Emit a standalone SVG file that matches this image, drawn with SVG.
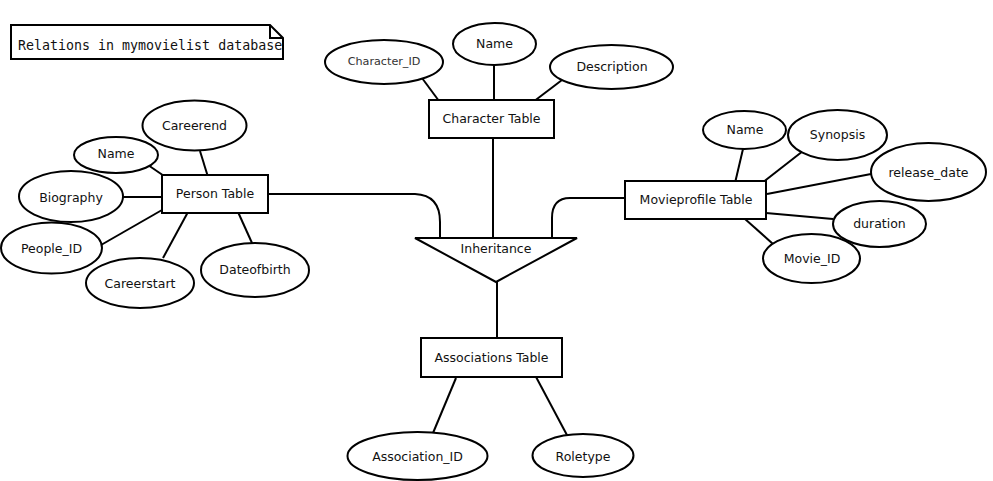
<svg xmlns="http://www.w3.org/2000/svg" width="993" height="481" viewBox="0 0 993 481">
<style>
  .sh{fill:#fff;stroke:#000;stroke-width:2}
  .ln{fill:none;stroke:#000;stroke-width:2}
  text{font-family:"DejaVu Sans",Verdana,sans-serif;font-size:12.5px;fill:#111;text-anchor:middle;dominant-baseline:central}
  .mono{font-family:"DejaVu Sans Mono","Liberation Mono",monospace;font-size:13.3px;text-anchor:start}
</style>
<rect width="993" height="481" fill="#fff"/>
<g id="note">
  <path class="sh" d="M11,25 H270 L283,38 V59 H11 Z"/>
  <path class="ln" d="M270,25 V38 H283" stroke-width="1"/>
  <text class="mono" x="18" y="45">Relations in mymovielist database</text>
</g>
<g id="connectors">
  <line class="ln" x1="148" y1="165" x2="167" y2="178"/>
  <line class="ln" x1="200" y1="151" x2="208" y2="177"/>
  <line class="ln" x1="123" y1="197" x2="166" y2="197"/>
  <line class="ln" x1="101" y1="245" x2="162" y2="210"/>
  <line class="ln" x1="163" y1="258" x2="188" y2="212"/>
  <line class="ln" x1="252" y1="243" x2="238" y2="212"/>
  <path class="ln" d="M268,194 H415 Q440,195 440,222 V238"/>
  <line class="ln" x1="422" y1="78" x2="439" y2="101"/>
  <line class="ln" x1="494" y1="65" x2="494" y2="100"/>
  <line class="ln" x1="562" y1="80" x2="533" y2="102"/>
  <line class="ln" x1="493" y1="138" x2="493" y2="238"/>
  <path class="ln" d="M625,198 H570 Q552,198 552,218 V238"/>
  <line class="ln" x1="743" y1="149" x2="735" y2="183"/>
  <line class="ln" x1="803" y1="151" x2="762" y2="183"/>
  <line class="ln" x1="871" y1="174" x2="767" y2="194"/>
  <line class="ln" x1="766" y1="213" x2="833" y2="219"/>
  <line class="ln" x1="745" y1="219" x2="773" y2="244"/>
  <line class="ln" x1="497" y1="282" x2="497" y2="339"/>
  <line class="ln" x1="456" y1="378" x2="433" y2="433"/>
  <line class="ln" x1="535" y1="375" x2="568" y2="437"/>
</g>
<g id="person-table"><rect class="sh" x="162" y="175" width="106" height="38"/><text x="215" y="193">Person Table</text></g>
<g id="person-careerend"><ellipse class="sh" cx="194.5" cy="125.5" rx="52" ry="25"/><text x="194.5" y="125.5">Careerend</text></g>
<g id="person-name"><ellipse class="sh" cx="116" cy="155" rx="42" ry="18"/><text x="116" y="153">Name</text></g>
<g id="person-biography"><ellipse class="sh" cx="71" cy="196.5" rx="52" ry="25.5"/><text x="71" y="197">Biography</text></g>
<g id="person-people-id"><ellipse class="sh" cx="51.5" cy="248" rx="50.5" ry="25.5"/><text x="51.5" y="248">People_ID</text></g>
<g id="person-careerstart"><ellipse class="sh" cx="140" cy="283" rx="54" ry="25"/><text x="140" y="283">Careerstart</text></g>
<g id="person-dateofbirth"><ellipse class="sh" cx="255" cy="270" rx="54" ry="27"/><text x="255" y="269.5">Dateofbirth</text></g>
<g id="character-table"><rect class="sh" x="429" y="100" width="125" height="38"/><text x="491.5" y="118">Character Table</text></g>
<g id="character-id"><ellipse class="sh" cx="384" cy="62" rx="59" ry="22" stroke="#333"/><text x="384" y="61.5" style="font-size:11.2px;fill:#333">Character_ID</text></g>
<g id="character-name"><ellipse class="sh" cx="494.5" cy="44" rx="41.5" ry="21"/><text x="494.5" y="43.5">Name</text></g>
<g id="character-description"><ellipse class="sh" cx="611.5" cy="67" rx="61.5" ry="22"/><text x="612" y="66.5">Description</text></g>
<g id="inheritance"><polygon class="sh" points="415,238 577,238 496,282"/><text x="496" y="248">Inheritance</text></g>
<g id="movieprofile-table"><rect class="sh" x="625" y="181" width="141" height="38"/><text x="696" y="199">Movieprofile Table</text></g>
<g id="movie-name"><ellipse class="sh" cx="744.5" cy="130" rx="41.5" ry="19"/><text x="745" y="129">Name</text></g>
<g id="movie-synopsis"><ellipse class="sh" cx="837.5" cy="135" rx="49.5" ry="25"/><text x="837.5" y="134">Synopsis</text></g>
<g id="movie-release-date"><ellipse class="sh" cx="928.5" cy="172" rx="57.5" ry="29"/><text x="928.5" y="172">release_date</text></g>
<g id="movie-duration"><ellipse class="sh" cx="879.5" cy="224" rx="46.5" ry="23"/><text x="879.5" y="223">duration</text></g>
<g id="movie-id"><ellipse class="sh" cx="811.5" cy="258.5" rx="48.5" ry="24.5"/><text x="812" y="258">Movie_ID</text></g>
<g id="associations-table"><rect class="sh" x="421" y="338" width="141" height="39"/><text x="491.5" y="357">Associations Table</text></g>
<g id="association-id"><ellipse class="sh" cx="417.5" cy="456" rx="70" ry="24"/><text x="417.5" y="456">Association_ID</text></g>
<g id="roletype"><ellipse class="sh" cx="583" cy="455.5" rx="50.5" ry="21.5"/><text x="583" y="456.5">Roletype</text></g>
</svg>
